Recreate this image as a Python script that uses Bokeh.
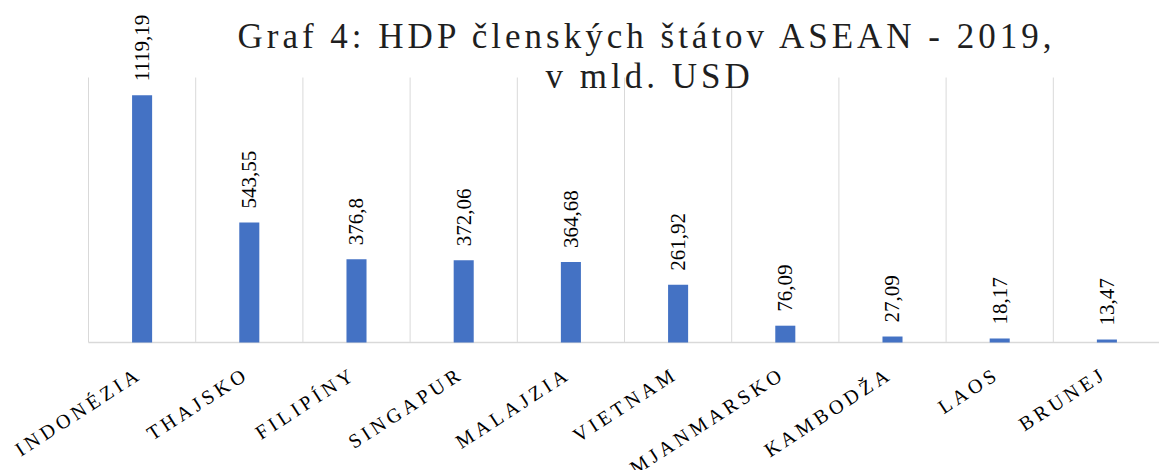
import math
from bokeh.plotting import figure
from bokeh.models import ColumnDataSource, LabelSet, Label, Range1d
from bokeh.layouts import column
from bokeh.embed import file_html
from bokeh.resources import INLINE
from bokeh.core.properties import value

# ---- data ----
categories = ["INDONÉZIA", "THAJSKO", "FILIPÍNY", "SINGAPUR", "MALAJZIA",
              "VIETNAM", "MJANMARSKO", "KAMBODŽA", "LAOS", "BRUNEJ"]
gdp = [1119.19, 543.55, 376.8, 372.06, 364.68, 261.92, 76.09, 27.09, 18.17, 13.47]
gdp_labels = ["1119,19", "543,55", "376,8", "372,06", "364,68",
              "261,92", "76,09", "27,09", "18,17", "13,47"]
title_line1 = "Graf 4: HDP členských štátov ASEAN - 2019,"
title_line2 = "v mld. USD"

# ---- layout / style ----
W, H = 1159, 470
FRAME_L, FRAME_T, FRAME_B = 88, 77, 342   # plot area in canvas pixels
CAT_W = 107.2                              # width of one category in pixels
Y_MAX = 1200
SERIF = "Liberation Serif"
SPACING = 4          # letter spacing (px) of title and category labels
ANGLE = math.radians(33)
BAR_COLOR = "#4472C4"
GRID_COLOR = "#d9d9d9"

n = len(categories)
idx = list(range(n))
py = (FRAME_B - FRAME_T) / Y_MAX
x_start = -0.5 - FRAME_L / CAT_W
x_end = x_start + W / CAT_W
y_start = -(H - FRAME_B) / py
y_end = Y_MAX + FRAME_T / py


def base_fig():
    p = figure(width=W, height=H,
               x_range=Range1d(x_start, x_end), y_range=Range1d(y_start, y_end),
               x_axis_location=None, y_axis_location=None,
               toolbar_location=None, output_backend="svg", min_border=0)
    p.outline_line_color = None
    p.grid.visible = False
    return p


# ---- figure with bars, grid, value labels (no letter spacing) ----
pb = base_fig()
pb.background_fill_color = "white"
pb.border_fill_color = "white"

bounds = [i - 0.5 for i in range(n + 1)]
pb.segment(x0=bounds, y0=[0] * len(bounds), x1=bounds, y1=[Y_MAX] * len(bounds),
           line_color=GRID_COLOR, line_width=1)
pb.segment(x0=[-0.5], y0=[0], x1=[n - 0.5], y1=[0], line_color=GRID_COLOR, line_width=1.5)

src = ColumnDataSource(dict(x=idx, top=gdp, label=gdp_labels))
pb.vbar(x="x", top="top", width=0.187, source=src,
        fill_color=BAR_COLOR, line_color=None)
pb.add_layout(LabelSet(x="x", y="top", text="label", source=src,
                       angle=math.pi / 2, text_align="left", text_baseline="middle",
                       y_offset=14, text_font=value(SERIF), text_font_size="21px",
                       text_color="#000000"))

# ---- overlay figure with spaced title and category labels ----
pa = base_fig()
pa.background_fill_color = None
pa.border_fill_color = None
pa.styles = {"letter-spacing": f"{SPACING}px"}
pa.margin = (-H, 0, 0, 0)

# compensate bokeh's unspaced measurement for right-aligned labels
xo = [-12 - (len(c) - 1) * SPACING * math.cos(ANGLE) for c in categories]
yo = [-22 - (len(c) - 1) * SPACING * math.sin(ANGLE) for c in categories]
csrc = ColumnDataSource(dict(x=idx, y=[0] * n, text=categories, xo=xo, yo=yo))
pa.add_layout(LabelSet(x="x", y="y", text="text", source=csrc,
                       angle=ANGLE, text_align="right", text_baseline="top",
                       x_offset="xo", y_offset="yo",
                       text_font=value(SERIF), text_font_size="20px",
                       text_color="#000000"))

pa.add_layout(Label(x=237, y=H - 36, x_units="screen", y_units="screen",
                    text=title_line1, text_align="left", text_baseline="alphabetic",
                    text_font=SERIF, text_font_size="35px", text_color="#1f1f1f"))
pa.add_layout(Label(x=545, y=H - 76, x_units="screen", y_units="screen",
                    text=title_line2, text_align="left", text_baseline="alphabetic",
                    text_font=SERIF, text_font_size="35px", text_color="#1f1f1f"))

layout = column(pb, pa)
open("out.html", "w").write(file_html(layout, INLINE))
